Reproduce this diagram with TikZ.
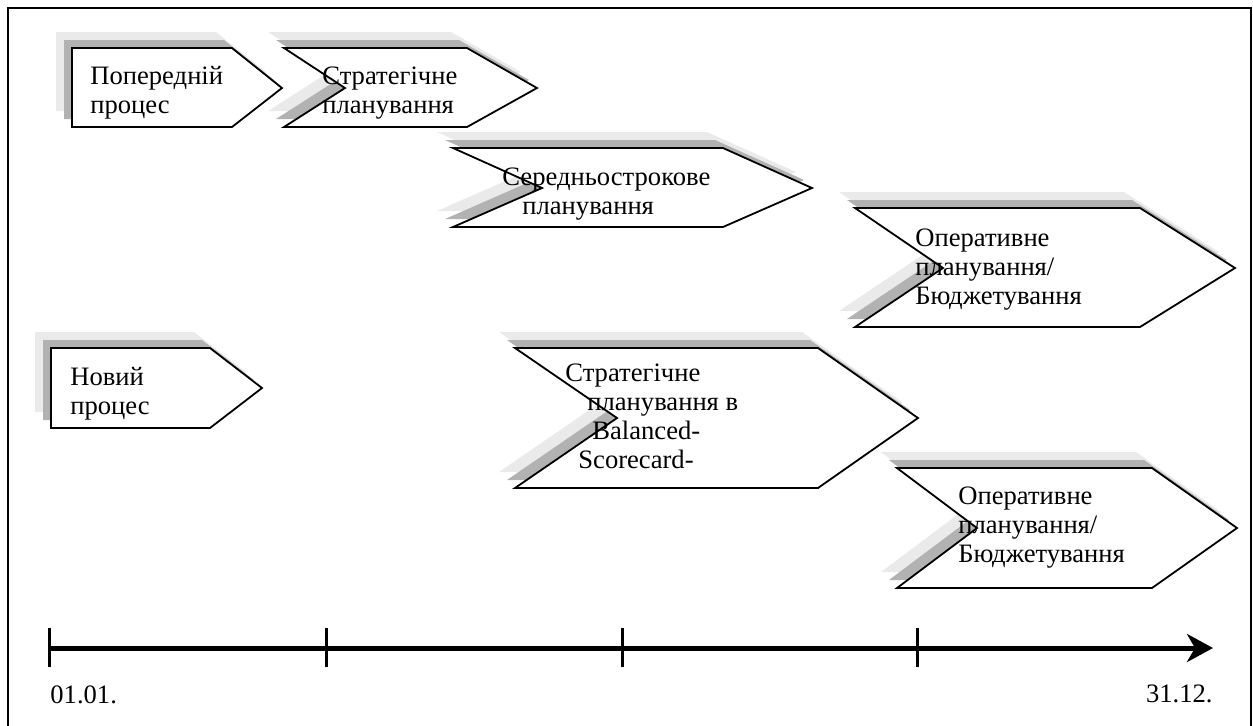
\documentclass[tikz,border=0pt]{standalone}
\usepackage{fontspec}
\setmainfont{Liberation Serif}
\usetikzlibrary{arrows.meta}
\definecolor{shadowdark}{RGB}{178,178,178}
\definecolor{shadowlight}{RGB}{234,234,234}

\begin{document}
\begin{tikzpicture}[x=0.5pt,y=-0.5pt]
  \tikzstyle{every node}+=[inner sep=0pt]
  \tikzstyle{procbox}=[line width=0.9pt,line join=miter]
  \tikzstyle{txt}=[anchor=base west,align=left,font=\fontsize{13.3}{14.4}\selectfont]
  \useasboundingbox (0,0) rectangle (1253,725);
  % frame
  \draw [black,line width=0.9pt] (8,740) -- (8,8) -- (1251,8) -- (1251,740);
  % old process
  \foreach \d/\c/\l in {16/shadowlight/none,8/shadowdark/none,0/white/black}
    \filldraw [procbox,fill=\c,draw=\l,shift={(-\d,-\d)}] (72,48) -- (232,48) -- (282,88) -- (232,127) -- (72,127) -- cycle;
  \foreach \d/\c/\l in {16/shadowlight/none,8/shadowdark/none,0/white/black}
    \filldraw [procbox,fill=\c,draw=\l,shift={(-\d,-\d)}] (284,48) -- (467,48) -- (537,88) -- (467,127) -- (284,127) -- (345,88) -- cycle;
  \foreach \d/\c/\l in {16/shadowlight/none,8/shadowdark/none,0/white/black}
    \filldraw [procbox,fill=\c,draw=\l,shift={(-\d,-\d)}] (453,148) -- (723,148) -- (812,188) -- (723,227) -- (453,227) -- (542,188) -- cycle;
  \foreach \d/\c/\l in {16/shadowlight/none,8/shadowdark/none,0/white/black}
    \filldraw [procbox,fill=\c,draw=\l,shift={(-\d,-\d)}] (855,208) -- (1140,208) -- (1235,268) -- (1140,327) -- (855,327) -- (943,268) -- cycle;
  % new process
  \foreach \d/\c/\l in {16/shadowlight/none,8/shadowdark/none,0/white/black}
    \filldraw [procbox,fill=\c,draw=\l,shift={(-\d,-\d)}] (51,348) -- (210,348) -- (262,388) -- (210,428) -- (51,428) -- cycle;
  \foreach \d/\c/\l in {16/shadowlight/none,8/shadowdark/none,0/white/black}
    \filldraw [procbox,fill=\c,draw=\l,shift={(-\d,-\d)}] (515,348) -- (818,348) -- (918,418) -- (818,488) -- (515,488) -- (617,418) -- cycle;
  \foreach \d/\c/\l in {16/shadowlight/none,8/shadowdark/none,0/white/black}
    \filldraw [procbox,fill=\c,draw=\l,shift={(-\d,-\d)}] (897,468) -- (1152,468) -- (1237,528) -- (1152,588) -- (897,588) -- (977,528) -- cycle;
  % texts (base = last line)
  \node [txt] (prev) at (90,113) {Попередній\\процес};
  \node [txt] (strat) at (322,113) {Стратегічне\\планування};
  \node [txt] (mid) at (502,214) {Середньострокове\\\hspace*{10pt}планування};
  \node [txt] (oper) at (915,304) {Оперативне\\планування/\\Бюджетування};
  \node [txt] (new) at (70,414) {Новий\\процес};
  \node [txt] (bsc) at (565,468) {Стратегічне\\\hspace*{11pt}планування в\\\hspace*{13.5pt}Balanced-\\\hspace*{6.5pt}Scorecard-};
  \node [txt] (oper2) at (958,562) {Оперативне\\планування/\\Бюджетування};
  % time axis
  \coordinate (t0) at (49,648);
  \coordinate (t1) at (1213,648);
  \draw [line width=2.5pt,-{Stealth[length=13pt,width=14pt,inset=4pt]}] (t0) -- (t1);
  \foreach \x in {49,326,622,917}
    \draw [line width=1.5pt] (\x,628) -- (\x,667);
  \node [txt] (from) at (50,703) {01.01.};
  \node [txt,anchor=base east] (to) at (1213,702) {31.12.};
\end{tikzpicture}
\end{document}
